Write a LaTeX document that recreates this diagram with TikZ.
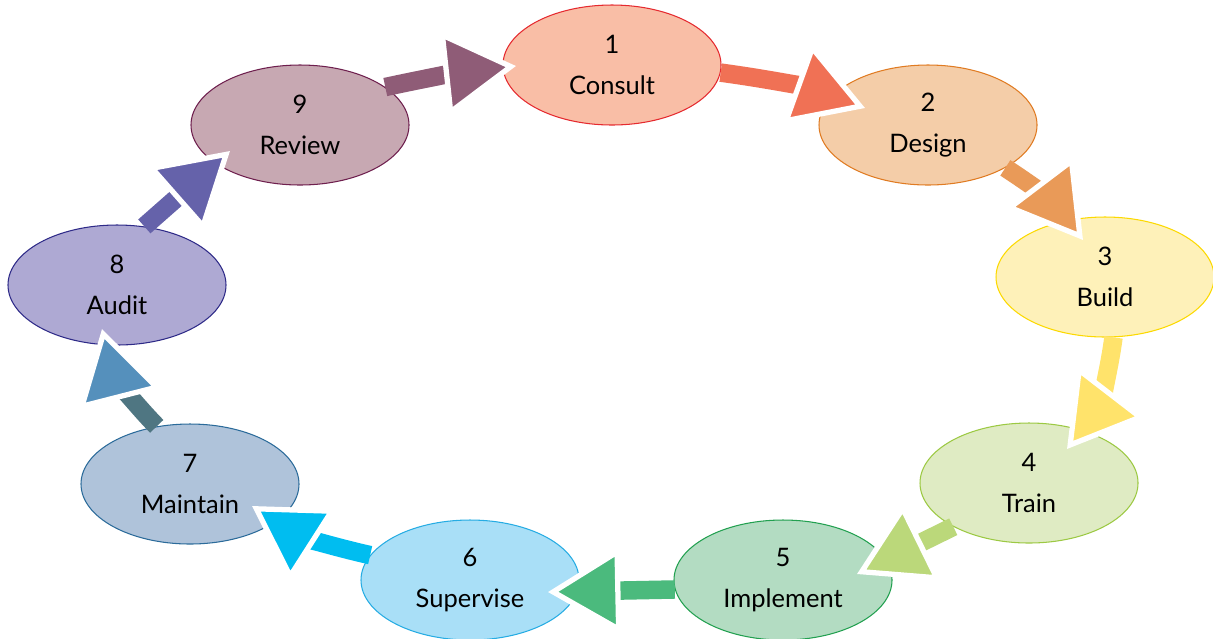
\documentclass[tikz,border=0pt]{standalone}
\usepackage{fontspec}
\setmainfont{Lato}
\usetikzlibrary{arrows.meta,shapes.geometric}

\definecolor{consultfill}{HTML}{F9BEA6}
\definecolor{consultline}{HTML}{E52A2F}
\definecolor{consultarrow}{HTML}{F07155}
\definecolor{designfill}{HTML}{F4CDA8}
\definecolor{designline}{HTML}{E07B22}
\definecolor{designarrow}{HTML}{E99A58}
\definecolor{buildfill}{HTML}{FEF1B9}
\definecolor{buildline}{HTML}{FCD900}
\definecolor{buildarrow}{HTML}{FFE36B}
\definecolor{trainfill}{HTML}{DFEBC3}
\definecolor{trainline}{HTML}{9CC943}
\definecolor{trainarrow}{HTML}{BBD87A}
\definecolor{implementfill}{HTML}{B3DCC2}
\definecolor{implementline}{HTML}{22A050}
\definecolor{implementarrow}{HTML}{4BBA7D}
\definecolor{supervisefill}{HTML}{A9DFF7}
\definecolor{superviseline}{HTML}{26ACE3}
\definecolor{supervisearrow}{HTML}{00BDF0}
\definecolor{maintainfill}{HTML}{AFC3DA}
\definecolor{maintainline}{HTML}{2B6B9A}
\definecolor{maintainarrow}{HTML}{5590BC}
\definecolor{maintainstem}{HTML}{4F7682}
\definecolor{auditfill}{HTML}{AEA9D3}
\definecolor{auditline}{HTML}{2E2A88}
\definecolor{auditarrow}{HTML}{6562AA}
\definecolor{reviewfill}{HTML}{C7A8B2}
\definecolor{reviewline}{HTML}{6E1F4E}
\definecolor{reviewarrow}{HTML}{8F5C77}

\tikzset{
  stage/.style={ellipse, draw=#1line, fill=#1fill, line width=0.6pt,
    minimum width=43.6mm, minimum height=24mm, inner sep=1pt,
    align=center, font=\fontsize{14.5}{23}\selectfont},
  flow/.style={draw=#1arrow, line width=3.7mm,
    -{Triangle[length=14.5mm, width=17mm, color=white, fill=#1arrow, line width=3pt]}},
}

\begin{document}
\begin{tikzpicture}[x=0.2mm, y=-0.2mm]
  \useasboundingbox (0,0) rectangle (1213,638);

  % stages
  \node[stage=consult]   (consult)   at (612,65)  {1\\Consult};
  \node[stage=design]    (design)    at (928,125) {2\\Design};
  \node[stage=build]     (build)     at (1105,277) {3\\Build};
  \node[stage=train]     (train)     at (1029,483) {4\\Train};
  \node[stage=implement] (implement) at (783,580) {5\\Implement};
  \node[stage=supervise] (supervise) at (470,580) {6\\Supervise};
  \node[stage=maintain]  (maintain)  at (190,484) {7\\Maintain};
  \node[stage=audit]     (audit)     at (117,285) {8\\Audit};
  \node[stage=review]    (review)    at (300,125) {9\\Review};

  % arrow tips
  \coordinate (tipdesign)    at (865,108);
  \coordinate (tipbuild)     at (1083,240);
  \coordinate (tiptrain)     at (1067,449);
  \coordinate (tipimplement) at (857,574);
  \coordinate (tipsupervise) at (548,592);
  \coordinate (tipmaintain)  at (252,506);
  \coordinate (tipaudit)     at (102,329);
  \coordinate (tipreview)    at (230,151);
  \coordinate (tipconsult)   at (516,66);

  % cycle
  \draw[flow=consult]   (consult.-4)    to[bend left=6]  (tipdesign);
  \draw[flow=design]    (design.-29)    to[bend left=10] (tipbuild);
  \draw[flow=build]     (build.-82)     to[bend left=15] (tiptrain);
  \draw[flow=train]     (train.210)     to (tipimplement);
  \draw[flow=implement] (implement.185) to (tipsupervise);
  \draw[flow=supervise] (supervise.166) to[bend left=10] (tipmaintain);
  \draw[flow=maintain, draw=maintainstem] (maintain.120) to[bend left=15] (tipaudit);
  \draw[flow=audit]     (audit.65)      to (tipreview);
  \draw[flow=review]    (review.24)     to[bend left=3] (tipconsult);
\end{tikzpicture}
\end{document}
